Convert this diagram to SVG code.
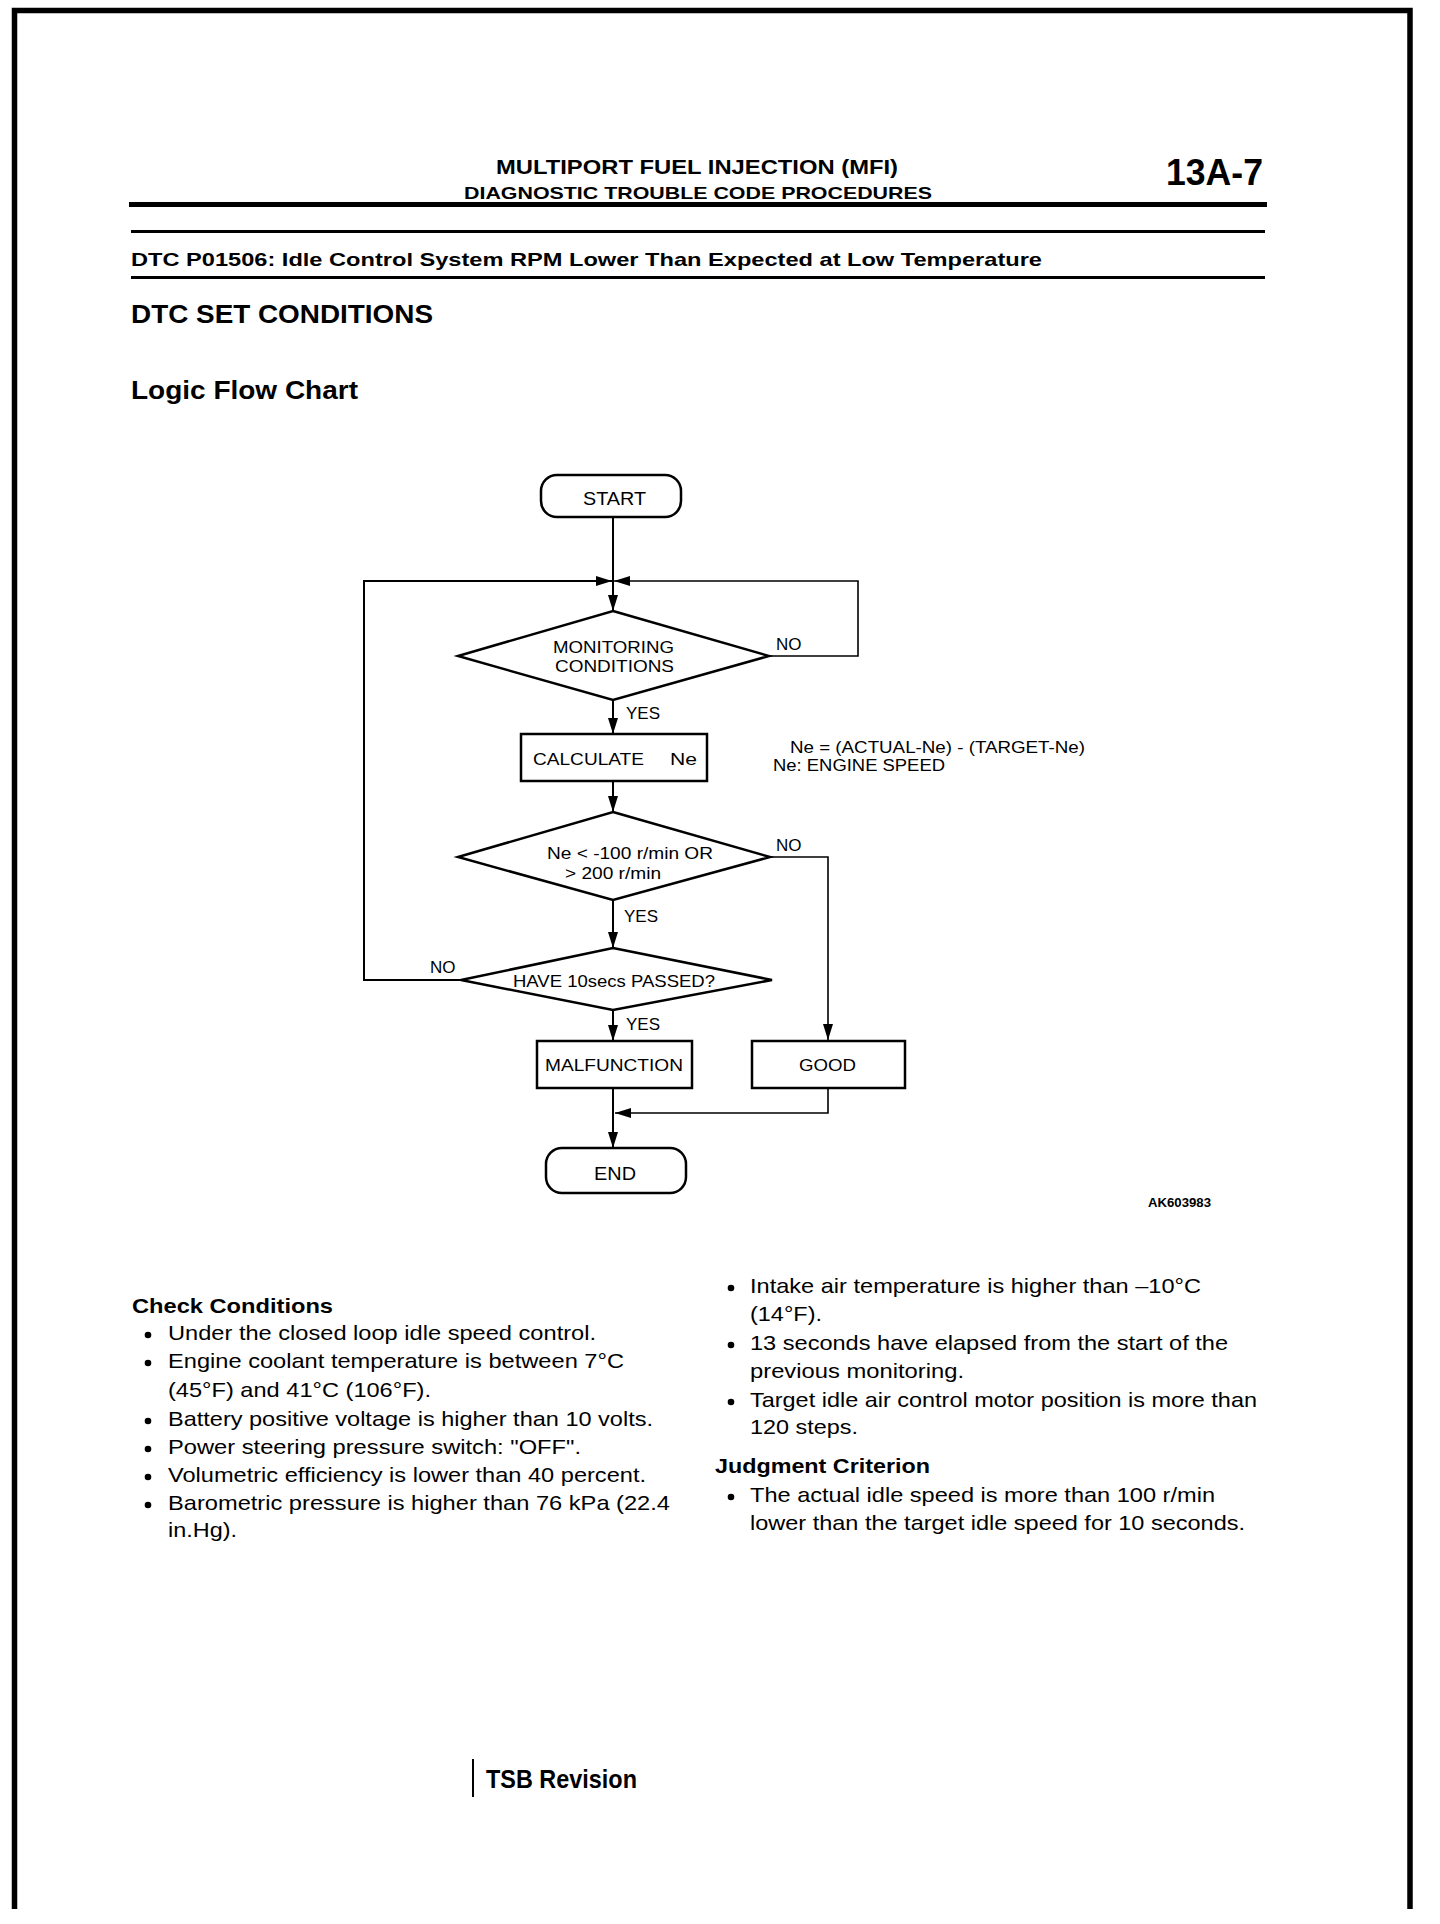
<svg xmlns="http://www.w3.org/2000/svg" width="1440" height="1924" viewBox="0 0 1440 1924">
<style>
text{font-family:"Liberation Sans",Arial,sans-serif;fill:#000}
.b{font-weight:bold}
.fc{font-size:17px}
.body{font-size:21px}
.shape{fill:#fff;stroke:#000;stroke-width:2.5}
.con{fill:none;stroke:#000;stroke-width:2}
.thin{fill:none;stroke:#000;stroke-width:1.6}
</style>
<defs>
<marker id="ah" viewBox="0 0 16 10" markerWidth="16" markerHeight="10" refX="16" refY="5" orient="auto" markerUnits="userSpaceOnUse">
<path d="M0,0 L16,5 L0,10 z" fill="#000"/>
</marker>
</defs>
<rect width="1440" height="1924" fill="#fff"/>
<g id="page">
<path d="M14.5,1909 V10.5 H1410 V1909" fill="none" stroke="#000" stroke-width="5.5"/>
<text x="496" y="174" class="b" font-size="21" textLength="402" lengthAdjust="spacingAndGlyphs">MULTIPORT FUEL INJECTION (MFI)</text>
<text x="464" y="199" class="b" font-size="17" textLength="468" lengthAdjust="spacingAndGlyphs">DIAGNOSTIC TROUBLE CODE PROCEDURES</text>
<text x="1166" y="185" class="b" font-size="36" textLength="97" lengthAdjust="spacingAndGlyphs">13A-7</text>
<line x1="129" y1="204.5" x2="1267" y2="204.5" stroke="#000" stroke-width="5"/>
<line x1="131" y1="231.5" x2="1265" y2="231.5" stroke="#000" stroke-width="3"/>
<text x="131" y="266" class="b" font-size="19" textLength="911" lengthAdjust="spacingAndGlyphs">DTC P01506: Idle Control System RPM Lower Than Expected at Low Temperature</text>
<line x1="131" y1="277.5" x2="1265" y2="277.5" stroke="#000" stroke-width="3"/>
<text x="131" y="323" class="b" font-size="25" textLength="302" lengthAdjust="spacingAndGlyphs">DTC SET CONDITIONS</text>
<text x="131" y="399" class="b" font-size="25" textLength="227" lengthAdjust="spacingAndGlyphs">Logic Flow Chart</text>
</g>
<g id="connectors">
<path class="con" d="M613,517 V611" marker-end="url(#ah)"/>
<path class="con" stroke-width="2.5" d="M461,980 H364 V581 H612" marker-end="url(#ah)"/>
<path class="thin" d="M769,656 H858 V581 H614" marker-end="url(#ah)"/>
<path class="con" d="M613,700 V734" marker-end="url(#ah)"/>
<path class="con" d="M613,781 V812" marker-end="url(#ah)"/>
<path class="thin" d="M770,857 H828 V1040" marker-end="url(#ah)"/>
<path class="con" d="M613,900 V948" marker-end="url(#ah)"/>
<path class="con" d="M613,1010 V1041" marker-end="url(#ah)"/>
<path class="con" d="M613,1088 V1148" marker-end="url(#ah)"/>
<path class="thin" d="M828,1088 V1113 H615" marker-end="url(#ah)"/>
<text x="776" y="650" class="fc">NO</text>
<text x="626" y="719" class="fc">YES</text>
<text x="776" y="851" class="fc">NO</text>
<text x="624" y="922" class="fc">YES</text>
<text x="430" y="973" class="fc">NO</text>
<text x="626" y="1030" class="fc">YES</text>
</g>
<g id="start">
<rect class="shape" x="541" y="475" width="140" height="42" rx="16"/>
<text x="583" y="505" font-size="19" textLength="63" lengthAdjust="spacingAndGlyphs">START</text>
</g>
<g id="monitoring">
<path class="shape" d="M613,611 L769,656 L613,700 L458,656 z"/>
<text x="553" y="653" class="fc" textLength="121" lengthAdjust="spacingAndGlyphs">MONITORING</text>
<text x="555" y="672" class="fc" textLength="119" lengthAdjust="spacingAndGlyphs">CONDITIONS</text>
</g>
<g id="calculate">
<rect class="shape" x="521" y="734" width="186" height="47"/>
<text x="533" y="765" class="fc" textLength="111" lengthAdjust="spacingAndGlyphs">CALCULATE</text>
<text x="670" y="765" class="fc" textLength="27" lengthAdjust="spacingAndGlyphs">Ne</text>
</g>
<g id="note">
<text x="790" y="753" font-size="16" textLength="295" lengthAdjust="spacingAndGlyphs">Ne = (ACTUAL-Ne) - (TARGET-Ne)</text>
<text x="773" y="771" font-size="16" textLength="172" lengthAdjust="spacingAndGlyphs">Ne: ENGINE SPEED</text>
</g>
<g id="ne-check">
<path class="shape" d="M613,812 L770,857 L613,900 L458,857 z"/>
<text x="547" y="859" class="fc" textLength="166" lengthAdjust="spacingAndGlyphs">Ne &lt; -100 r/min OR</text>
<text x="565" y="879" class="fc" textLength="96" lengthAdjust="spacingAndGlyphs">&gt; 200 r/min</text>
</g>
<g id="passed">
<path class="shape" d="M613,948 L772,980 L613,1010 L461,980 z"/>
<text x="513" y="987" class="fc" textLength="202" lengthAdjust="spacingAndGlyphs">HAVE 10secs PASSED?</text>
</g>
<g id="malfunction">
<rect class="shape" x="537" y="1041" width="155" height="47"/>
<text x="545" y="1071" class="fc" textLength="138" lengthAdjust="spacingAndGlyphs">MALFUNCTION</text>
</g>
<g id="good">
<rect class="shape" x="752" y="1041" width="153" height="47"/>
<text x="799" y="1071" class="fc" textLength="57" lengthAdjust="spacingAndGlyphs">GOOD</text>
</g>
<g id="end">
<rect class="shape" x="546" y="1148" width="140" height="45" rx="16"/>
<text x="594" y="1180" font-size="19" textLength="42" lengthAdjust="spacingAndGlyphs">END</text>
</g>
<g id="code">
<text x="1148" y="1207" class="b" font-size="12" textLength="63" lengthAdjust="spacingAndGlyphs">AK603983</text>
</g>
<g id="left-column">
<text x="132" y="1313" class="b" font-size="21" textLength="201" lengthAdjust="spacingAndGlyphs">Check Conditions</text>
<g fill="#000">
<circle cx="148" cy="1335" r="3.3"/>
<circle cx="148" cy="1363" r="3.3"/>
<circle cx="148" cy="1421" r="3.3"/>
<circle cx="148" cy="1449" r="3.3"/>
<circle cx="148" cy="1477" r="3.3"/>
<circle cx="148" cy="1505" r="3.3"/>
</g>
<text x="168" y="1340" class="body" textLength="428" lengthAdjust="spacingAndGlyphs">Under the closed loop idle speed control.</text>
<text x="168" y="1368" class="body" textLength="456" lengthAdjust="spacingAndGlyphs">Engine coolant temperature is between 7°C</text>
<text x="168" y="1397" class="body" textLength="263" lengthAdjust="spacingAndGlyphs">(45°F) and 41°C (106°F).</text>
<text x="168" y="1426" class="body" textLength="485" lengthAdjust="spacingAndGlyphs">Battery positive voltage is higher than 10 volts.</text>
<text x="168" y="1454" class="body" textLength="413" lengthAdjust="spacingAndGlyphs">Power steering pressure switch: "OFF".</text>
<text x="168" y="1482" class="body" textLength="478" lengthAdjust="spacingAndGlyphs">Volumetric efficiency is lower than 40 percent.</text>
<text x="168" y="1510" class="body" textLength="502" lengthAdjust="spacingAndGlyphs">Barometric pressure is higher than 76 kPa (22.4</text>
<text x="168" y="1537" class="body" textLength="69" lengthAdjust="spacingAndGlyphs">in.Hg).</text>
</g>
<g id="right-column">
<g fill="#000">
<circle cx="731" cy="1288" r="3.3"/>
<circle cx="731" cy="1345" r="3.3"/>
<circle cx="731" cy="1402" r="3.3"/>
<circle cx="731" cy="1497" r="3.3"/>
</g>
<text x="750" y="1293" class="body" textLength="451" lengthAdjust="spacingAndGlyphs">Intake air temperature is higher than –10°C</text>
<text x="750" y="1321" class="body" textLength="72" lengthAdjust="spacingAndGlyphs">(14°F).</text>
<text x="750" y="1350" class="body" textLength="478" lengthAdjust="spacingAndGlyphs">13 seconds have elapsed from the start of the</text>
<text x="750" y="1378" class="body" textLength="214" lengthAdjust="spacingAndGlyphs">previous monitoring.</text>
<text x="750" y="1407" class="body" textLength="507" lengthAdjust="spacingAndGlyphs">Target idle air control motor position is more than</text>
<text x="750" y="1434" class="body" textLength="108" lengthAdjust="spacingAndGlyphs">120 steps.</text>
<text x="715" y="1473" class="b" font-size="21" textLength="215" lengthAdjust="spacingAndGlyphs">Judgment Criterion</text>
<text x="750" y="1502" class="body" textLength="465" lengthAdjust="spacingAndGlyphs">The actual idle speed is more than 100 r/min</text>
<text x="750" y="1530" class="body" textLength="495" lengthAdjust="spacingAndGlyphs">lower than the target idle speed for 10 seconds.</text>
</g>
<g id="footer">
<line x1="473" y1="1759" x2="473" y2="1797" stroke="#000" stroke-width="2"/>
<text x="486" y="1788" class="b" font-size="25" textLength="151" lengthAdjust="spacingAndGlyphs">TSB Revision</text>
</g>
</svg>
